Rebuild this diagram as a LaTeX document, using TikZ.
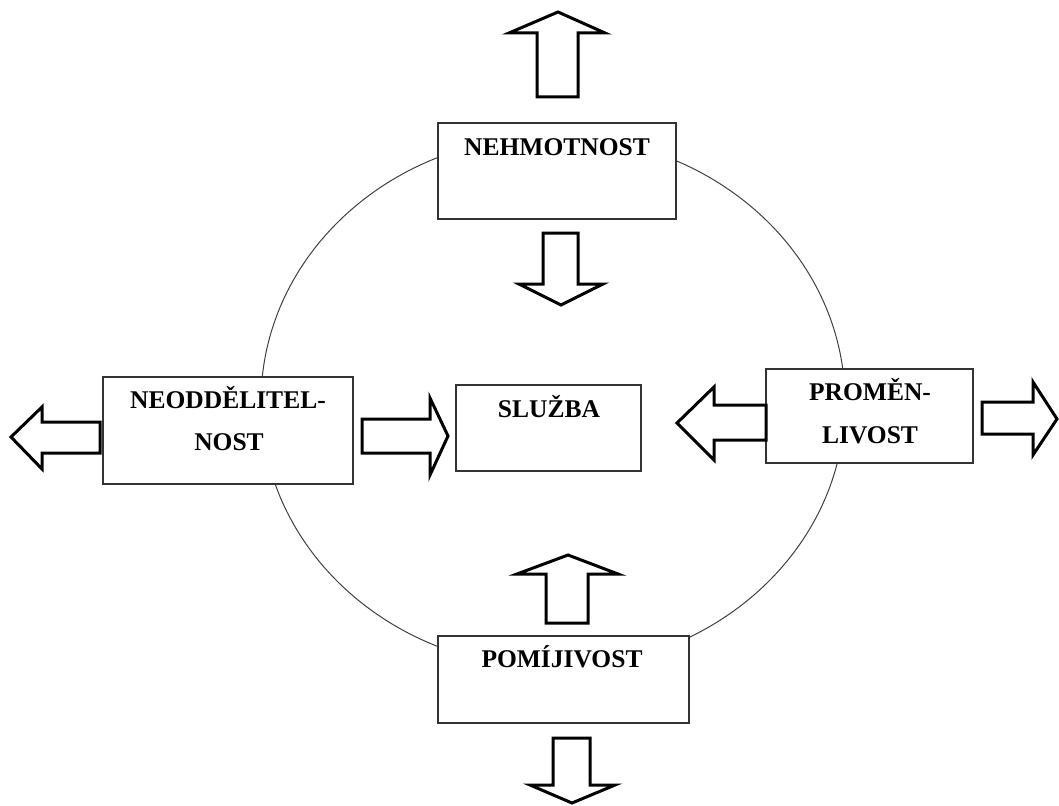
\documentclass[tikz,border=0pt]{standalone}
\usepackage{fontspec}
\setmainfont{Liberation Serif}
\begin{document}
\begin{tikzpicture}[x=1pt,y=-1pt,
  box/.style={draw=black!80, line width=1.2pt, fill=white, inner sep=0pt},
  lbl/.style={font=\bfseries\fontsize{25.5}{30}\selectfont, inner sep=0pt, anchor=base},
  barrow/.style={draw=black, line width=3pt, fill=white, line join=miter, miter limit=10}]
\useasboundingbox (0,0) rectangle (1059,805);
% ring
\draw[black!75, line width=1pt] (553,402) ellipse [x radius=292, y radius=266];
% boxes
\node[box, minimum width=238, minimum height=96] (neh) at (557,171) {};
\node[box, minimum width=250, minimum height=107] (neo) at (228,430.5) {};
\node[box, minimum width=185, minimum height=86] (slu) at (548.5,428) {};
\node[box, minimum width=207, minimum height=94] (pro) at (869.5,416) {};
\node[box, minimum width=251, minimum height=87] (pom) at (563.5,679.5) {};
% labels
\node[lbl] (tneh) at (557,155.5) {NEHMOTNOST};
\node[lbl] (tneoa) at (228,408.5) {NEODDĚLITEL-};
\node[lbl] (tneob) at (229,450.5) {NOST};
\node[lbl] (tslu) at (549,417.5) {SLUŽBA};
\node[lbl] (tproa) at (870,400.5) {PROMĚN-};
\node[lbl] (tprob) at (870,443.5) {LIVOST};
\node[lbl] (tpom) at (562,667.5) {POMÍJIVOST};
% block arrows
\draw[barrow] (558,12) -- (605,33) -- (578,33) -- (578,97) -- (537,97) -- (537,33) -- (509,33) -- cycle;
\draw[barrow] (561,305) -- (603,284) -- (578,284) -- (578,233) -- (543,233) -- (543,284) -- (519,284) -- cycle;
\draw[barrow] (11,437) -- (42,407) -- (42,422) -- (100,422) -- (100,453) -- (42,453) -- (42,469) -- cycle;
\draw[barrow] (448,436) -- (430,398) -- (430,419) -- (362,419) -- (362,453) -- (430,453) -- (430,475) -- cycle;
\draw[barrow] (677,423) -- (714,387) -- (714,405) -- (766,405) -- (766,440) -- (714,440) -- (714,460) -- cycle;
\draw[barrow] (1057,419) -- (1033,382) -- (1033,402) -- (982,402) -- (982,434) -- (1033,434) -- (1033,455) -- cycle;
\draw[barrow] (568,555) -- (618,574) -- (588,574) -- (588,623) -- (546,623) -- (546,574) -- (517,574) -- cycle;
\draw[barrow] (572,803) -- (615,785) -- (590,785) -- (590,738) -- (553,738) -- (553,785) -- (530,785) -- cycle;
\end{tikzpicture}
\end{document}
